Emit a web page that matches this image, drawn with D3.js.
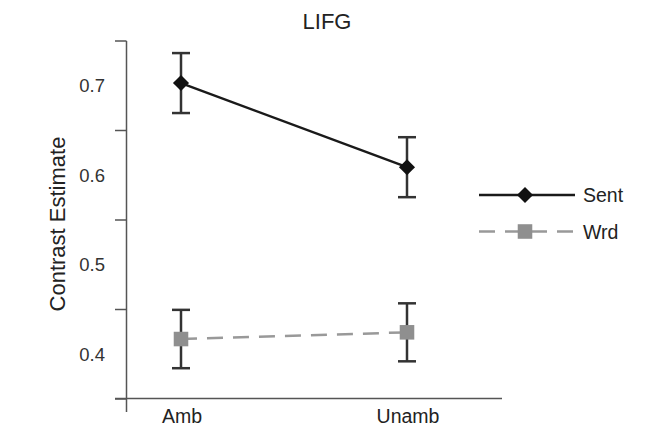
<!DOCTYPE html>
<meta charset="utf-8">
<style>
body { margin: 0; background: #fff; font-family: 'Liberation Sans', Arial, sans-serif; }
</style>
<body>
<script src="https://cdnjs.cloudflare.com/ajax/libs/d3/7.8.5/d3.min.js"></script>
<script>
var conditions = ["Amb", "Unamb"];
var sentMean = [0.703, 0.609];
var sentErr = [0.0335, 0.0335];
var wrdMean = [0.417, 0.4245];
var wrdErr = [0.0326, 0.0324];
var tickLabels = [0.4, 0.5, 0.6, 0.7];
var tickMarks = [0.35, 0.45, 0.55, 0.65, 0.75];

var width = 666, height = 427;

var svg = d3.select("body").append("svg")
    .attr("width", width)
    .attr("height", height);

var x = d3.scalePoint().domain(conditions).range([181, 407]);
var y = d3.scaleLinear().domain([0.35, 0.75]).range([399, 41]);

// y axis: tick marks sit between the labels
svg.append("line")
    .attr("x1", 126.5).attr("x2", 126.5)
    .attr("y1", y(0.75)).attr("y2", 412)
    .attr("stroke", "#555").attr("stroke-width", 1.5);

svg.selectAll(".ytick")
    .data(tickMarks)
  .enter().append("line")
    .attr("x1", 115).attr("x2", 126.5)
    .attr("y1", function(d) { return y(d); })
    .attr("y2", function(d) { return y(d); })
    .attr("stroke", "#555").attr("stroke-width", 1.5);

svg.selectAll(".ylab")
    .data(tickLabels)
  .enter().append("text")
    .attr("x", 105)
    .attr("y", function(d) { return y(d) + 6.5; })
    .attr("text-anchor", "end")
    .attr("font-size", "18.5px")
    .attr("fill", "#333")
    .text(function(d) { return d3.format(".1f")(d); });

// x axis
svg.append("line")
    .attr("x1", 115).attr("x2", 502)
    .attr("y1", 398.5).attr("y2", 398.5)
    .attr("stroke", "#555").attr("stroke-width", 1.5);

svg.selectAll(".xlab")
    .data(conditions)
  .enter().append("text")
    .attr("x", function(d) { return x(d) + 1; })
    .attr("y", 423)
    .attr("text-anchor", "middle")
    .attr("font-size", "19.5px")
    .attr("fill", "#222")
    .text(function(d) { return d; });

svg.append("text")
    .attr("x", 327).attr("y", 29)
    .attr("text-anchor", "middle")
    .attr("font-size", "22px")
    .attr("fill", "#222")
    .text("LIFG");

svg.append("text")
    .attr("transform", "translate(65,224) rotate(-90)")
    .attr("text-anchor", "middle")
    .attr("font-size", "22px")
    .attr("fill", "#222")
    .text("Contrast Estimate");

var series = [
  {name: "Sent", mean: sentMean, err: sentErr, color: "#1a1a1a", mark: "#111", dash: null, sym: d3.symbolDiamond2, size: 165},
  {name: "Wrd", mean: wrdMean, err: wrdErr, color: "#999", mark: "#8f8f8f", dash: "16,10", sym: d3.symbolSquare2, size: 270}
];

var line = d3.line()
    .x(function(d) { return x(d.c); })
    .y(function(d) { return y(d.v); });

series.forEach(function(s) {
  var pts = conditions.map(function(c, i) { return {c: c, v: s.mean[i], e: s.err[i]}; });

  svg.append("path")
      .attr("d", line(pts))
      .attr("fill", "none")
      .attr("stroke", s.color)
      .attr("stroke-width", 2.5)
      .attr("stroke-dasharray", s.dash);

  var eb = svg.append("g").selectAll("g").data(pts).enter().append("g");
  eb.append("line")
      .attr("x1", function(d) { return x(d.c); })
      .attr("x2", function(d) { return x(d.c); })
      .attr("y1", function(d) { return y(d.v + d.e); })
      .attr("y2", function(d) { return y(d.v - d.e); })
      .attr("stroke", "#333").attr("stroke-width", 2.5);
  [1, -1].forEach(function(k) {
    eb.append("line")
        .attr("x1", function(d) { return x(d.c) - 9; })
        .attr("x2", function(d) { return x(d.c) + 9; })
        .attr("y1", function(d) { return y(d.v + k * d.e); })
        .attr("y2", function(d) { return y(d.v + k * d.e); })
        .attr("stroke", "#333").attr("stroke-width", 2.5);
  });

  svg.append("g").selectAll("path").data(pts).enter().append("path")
      .attr("transform", function(d) { return "translate(" + x(d.c) + "," + y(d.v) + ")"; })
      .attr("d", d3.symbol().type(s.sym).size(s.size))
      .attr("fill", s.mark);
});

// legend
var legend = svg.selectAll(".legend")
    .data(series)
  .enter().append("g")
    .attr("transform", function(d, i) { return "translate(479," + (195 + i * 36.5) + ")"; });

legend.append("line")
    .attr("x1", 0).attr("x2", 96)
    .attr("stroke", function(d) { return d.color; })
    .attr("stroke-width", 2.5)
    .attr("stroke-dasharray", function(d) { return d.dash; });

legend.append("path")
    .attr("transform", "translate(46,0)")
    .attr("d", function(d) { return d3.symbol().type(d.sym).size(d.size)(); })
    .attr("fill", function(d) { return d.mark; });

legend.append("text")
    .attr("x", 104)
    .attr("y", 7)
    .attr("font-size", "19.5px")
    .attr("fill", "#222")
    .text(function(d) { return d.name; });
</script>
</body>
